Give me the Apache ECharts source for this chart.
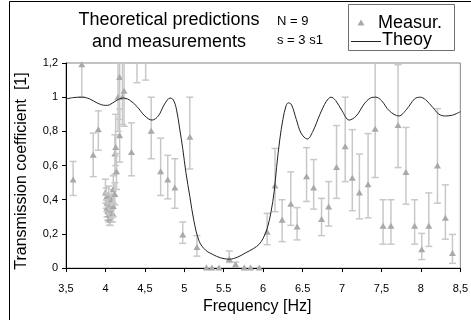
<!DOCTYPE html>
<html><head><meta charset="utf-8">
<script src="https://cdn.jsdelivr.net/npm/echarts@6/dist/echarts.min.js"></script>
<style>html,body{margin:0;padding:0;background:#fff}#c{width:471px;height:320px}</style>
</head><body><div id="c"></div>
<script>
const xTickLabels = ["3,5","4","4,5","5","5.5","6","6.5","7","7,5","8","8,5"];
const yTickLabels = ["0","0,2","0,4","0,6","0,8","1","1,2"];

const theoryFreq = [3.50,3.60,3.70,3.80,3.90,4.00,4.05,4.12,4.22,4.30,4.40,4.50,4.59,4.67,4.75,4.82,4.86,4.90,4.94,4.98,5.02,5.07,5.12,5.19,5.27,5.36,5.46,5.57,5.68,5.78,5.88,5.95,6.00,6.05,6.10,6.14,6.17,6.21,6.25,6.29,6.32,6.36,6.42,6.48,6.56,6.63,6.72,6.80,6.86,6.92,7.00,7.09,7.18,7.28,7.36,7.43,7.50,7.60,7.72,7.82,7.92,7.99,8.06,8.15,8.23,8.31,8.40,8.50];
const theoryT = [0.99,0.998,1.0,0.99,0.965,0.952,0.955,0.975,0.995,0.985,0.945,0.89,0.866,0.89,0.96,0.995,0.985,0.93,0.82,0.70,0.56,0.42,0.28,0.155,0.105,0.08,0.06,0.052,0.065,0.09,0.115,0.14,0.175,0.23,0.33,0.45,0.59,0.75,0.87,0.95,0.967,0.955,0.87,0.79,0.755,0.80,0.90,0.975,1.0,0.98,0.92,0.866,0.89,0.96,0.995,1.0,0.98,0.92,0.89,0.93,0.99,1.0,0.985,0.94,0.90,0.89,0.895,0.915];

const measFreq = [3.59,3.70,3.845,3.91,4.00,4.01,4.02,4.02,4.03,4.04,4.04,4.05,4.06,4.06,4.07,4.08,4.09,4.10,4.10,4.12,4.12,4.13,4.14,4.16,4.18,4.18,4.216,4.236,4.33,4.40,4.51,4.58,4.70,4.79,4.88,4.98,5.07,5.16,5.28,5.35,5.44,5.57,5.65,5.76,5.84,5.95,6.05,6.15,6.24,6.35,6.43,6.55,6.64,6.74,6.83,6.93,7.04,7.13,7.22,7.33,7.42,7.52,7.62,7.71,7.81,7.92,8.01,8.10,8.21,8.31,8.40];
const measT = [0.515,1.19,0.66,0.81,0.44,0.41,0.38,0.35,0.33,0.31,0.42,0.29,0.37,0.28,0.34,0.40,0.32,0.36,0.46,0.43,0.667,0.705,0.563,1.0,0.775,1.115,1.0,1.035,0.677,1.30,1.32,0.80,0.563,0.515,0.468,0.193,0.765,0.12,0,0,0,0.05,0.02,0,0,0,0.21,0.48,0.28,0.373,0.24,0.535,0.468,0.285,0.358,0.588,0.71,0.525,0.44,0.487,0.813,0.245,0.245,0.834,0.56,0.245,0.108,0.245,0.597,0.292,0.085];
const errLow = [0.425,1.0,0.535,0.69,0.38,0.35,0.33,0.30,0.28,0.27,0.36,0.25,0.31,0.25,0.29,0.34,0.27,0.30,0.38,0.37,0.55,0.60,0.46,0.80,0.62,0.87,0.84,0.83,0.54,1.085,1.10,0.64,0.425,0.405,0.35,0.145,0.58,0.07,0,0,0,0.033,0.005,0,0,0,0.137,0.33,0.155,0.25,0.165,0.39,0.345,0.19,0.246,0.408,0.506,0.336,0.288,0.294,0.53,0.14,0.14,0.588,0.374,0.14,0.05,0.127,0.38,0.169,0.028];
const errHigh = [0.624,1.38,0.79,0.92,0.52,0.47,0.44,0.40,0.38,0.36,0.48,0.33,0.43,0.32,0.40,0.46,0.37,0.42,0.54,0.50,0.78,0.90,0.67,1.25,0.93,1.36,1.25,1.25,0.85,1.5,1.5,1.0,0.76,0.66,0.64,0.27,1.0,0.19,0,0,0,0.10,0.035,0,0,0,0.32,0.70,0.40,0.563,0.354,0.705,0.635,0.408,0.506,0.834,1.0,0.81,0.667,0.787,1.25,0.40,0.40,1.19,0.823,0.40,0.203,0.44,0.933,0.487,0.197];

const Y_MAX = 1.2;
const FONT = 'Liberation Sans, Arial, sans-serif';
const BAR_COLOR = '#c8c8c8';
const TRI_COLOR = '#a9a9a9';

const measData = measFreq.map((f, i) => [f, measT[i], errLow[i], errHigh[i]]);
const theoryData = theoryFreq.map((f, i) => [f, theoryT[i]]);

function tri(cx, cy, fill) {
  return {type: 'polygon', shape: {points: [[cx, cy - 3.5], [cx - 3.5, cy + 2.5], [cx + 3.5, cy + 2.5]]}, style: {fill: fill}};
}

function renderErr(params, api) {
  const x = api.value(0), y = api.value(1), lo = api.value(2), hi = api.value(3);
  const cs = params.coordSys;
  const top = cs.y, bottom = cs.y + cs.height;
  const p = api.coord([x, y]);
  const pLo = api.coord([x, lo]);
  const pHi = api.coord([x, hi]);
  const children = [];
  const st = {stroke: BAR_COLOR, lineWidth: 1.5};
  const y1 = Math.max(pHi[1], top), y2 = Math.min(pLo[1], bottom);
  if (y2 - y1 > 0.5) {
    children.push({type: 'line', shape: {x1: p[0], y1: y1, x2: p[0], y2: y2}, style: st});
    if (hi <= Y_MAX) children.push({type: 'line', shape: {x1: p[0] - 3.5, y1: pHi[1], x2: p[0] + 3.5, y2: pHi[1]}, style: st});
    if (lo >= 0 && lo <= Y_MAX) children.push({type: 'line', shape: {x1: p[0] - 3.5, y1: pLo[1], x2: p[0] + 3.5, y2: pLo[1]}, style: st});
  }
  if (y <= Y_MAX) children.push(tri(p[0], p[1], TRI_COLOR));
  return {type: 'group', children: children};
}

const chart = echarts.init(document.getElementById('c'), null, {renderer: 'canvas'});
chart.setOption({
  animation: false,
  backgroundColor: '#fff',
  textStyle: {fontFamily: FONT},
  grid: {left: 66, right: 9, top: 63, bottom: 46, show: true, borderColor: '#868686', borderWidth: 1, backgroundColor: 'transparent'},
  xAxis: {
    type: 'value', min: 3.5, max: 8.5, interval: 0.5,
    axisLine: {show: true, onZero: false, lineStyle: {color: '#000', width: 1}},
    axisTick: {show: true, length: 4, lineStyle: {color: '#000'}},
    splitLine: {show: false},
    axisLabel: {formatter: v => xTickLabels[Math.round((v - 3.5) / 0.5)], fontSize: 11, color: '#000', margin: 15, fontFamily: FONT},
    name: 'Frequency [Hz]', nameLocation: 'middle', nameGap: 26,
    nameTextStyle: {fontSize: 16, color: '#000', fontFamily: FONT, padding: [0, 12, 0, 0]}
  },
  yAxis: {
    type: 'value', min: 0, max: 1.2, interval: 0.2,
    axisLine: {show: true, onZero: false, lineStyle: {color: '#000', width: 1}},
    axisTick: {show: true, length: 4, lineStyle: {color: '#000'}},
    splitLine: {show: false},
    axisLabel: {formatter: v => yTickLabels[Math.round(v / 0.2)], fontSize: 11, color: '#000', margin: 8, fontFamily: FONT}
  },
  series: [
    {type: 'custom', name: 'Measur.', data: measData, renderItem: renderErr, encode: {x: 0, y: 1}, z: 2, clip: false},
    {type: 'line', name: 'Theoy', data: theoryData, symbol: 'none', smooth: 0.35, lineStyle: {color: '#222', width: 1}, z: 3, clip: true}
  ],
  graphic: [
    {type: 'rect', shape: {x: 9.5, y: 1.5, width: 480, height: 340}, style: {fill: 'none', stroke: '#000', lineWidth: 1}, z: 0, silent: true},
    {type: 'text', x: 22, y: 171, rotation: Math.PI / 2, style: {text: 'Transmission coefficient  [1]', x: 0, y: 0, textAlign: 'center', textVerticalAlign: 'middle', fontSize: 16, fontFamily: FONT, fill: '#000'}},
    {type: 'text', style: {text: 'Theoretical predictions', x: 169, y: 20, textAlign: 'center', textVerticalAlign: 'middle', fontSize: 18, fontFamily: FONT, fill: '#000'}},
    {type: 'text', style: {text: 'and measurements', x: 169, y: 42, textAlign: 'center', textVerticalAlign: 'middle', fontSize: 18, fontFamily: FONT, fill: '#000'}},
    {type: 'text', style: {text: 'N = 9', x: 277, y: 21, textAlign: 'left', textVerticalAlign: 'middle', fontSize: 13, fontFamily: FONT, fill: '#000'}},
    {type: 'text', style: {text: 's = 3 s1', x: 277, y: 40, textAlign: 'left', textVerticalAlign: 'middle', fontSize: 13, fontFamily: FONT, fill: '#000'}},
    {type: 'rect', shape: {x: 348.5, y: 4.5, width: 106, height: 46}, style: {fill: '#fff', stroke: '#6f6f6f', lineWidth: 1}},
    {type: 'polygon', shape: {points: [[361, 19.5], [357.5, 25.5], [364.5, 25.5]]}, style: {fill: TRI_COLOR}},
    {type: 'text', style: {text: 'Measur.', x: 378, y: 23, textAlign: 'left', textVerticalAlign: 'middle', fontSize: 18, fontFamily: FONT, fill: '#000'}},
    {type: 'line', shape: {x1: 351, y1: 41.5, x2: 381, y2: 41.5}, style: {stroke: '#222', lineWidth: 1}},
    {type: 'text', style: {text: 'Theoy', x: 382, y: 40, textAlign: 'left', textVerticalAlign: 'middle', fontSize: 18, fontFamily: FONT, fill: '#000'}}
  ]
});
</script>
</body></html>
